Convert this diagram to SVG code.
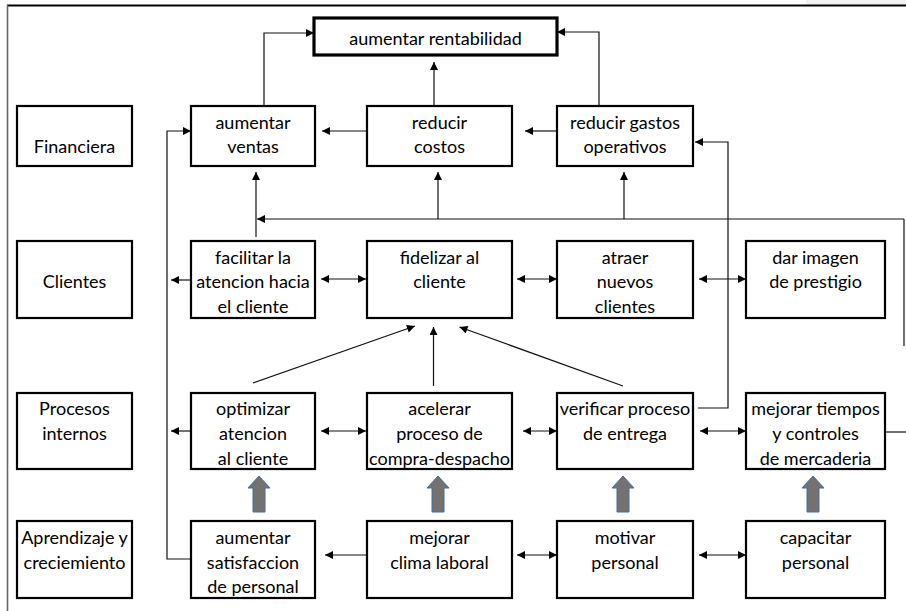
<svg xmlns="http://www.w3.org/2000/svg" width="906" height="611" viewBox="0 0 906 611">
<style>
.box{fill:#fff;stroke:#000;stroke-width:2.2}
.main{fill:#fff;stroke:#000;stroke-width:3.2}
.t{font-family:Lato,"Liberation Sans",sans-serif;font-size:18px;fill:#000;text-anchor:middle}
.c{fill:none;stroke:#111;stroke-width:1.2}
.ba{fill:#767171;stroke:#41719c;stroke-width:1}
</style>
<defs>
<marker id="ah" viewBox="0 0 10 10" refX="10" refY="5" markerWidth="9" markerHeight="8" orient="auto-start-reverse" markerUnits="userSpaceOnUse"><path d="M0,0 L10,5 L0,10 z" fill="#000"/></marker>
<linearGradient id="fade" gradientUnits="userSpaceOnUse" x1="0" y1="219" x2="0" y2="346"><stop offset="0" stop-color="#333"/><stop offset="1" stop-color="#ddd"/></linearGradient>
</defs>
<rect x="806" y="0" width="100" height="5" fill="#f2f2f2"/>
<line x1="7" y1="5.5" x2="906" y2="5.5" stroke="#000" stroke-width="2.2"/>
<line x1="7.5" y1="5" x2="7.5" y2="611" stroke="#666" stroke-width="1.6"/>

<g id="connectors">
<path class="c" d="M264,106 V33 H314" marker-end="url(#ah)"/>
<path class="c" d="M434,106 V62" marker-end="url(#ah)"/>
<path class="c" d="M599,106 V32 H557" marker-end="url(#ah)"/>
<path class="c" d="M367,131 H322" marker-end="url(#ah)"/>
<path class="c" d="M557,131 H525" marker-end="url(#ah)"/>
<path class="c" d="M191,559 H167 V131 H191" marker-end="url(#ah)"/>
<path class="c" d="M698,408 H728 V142 H695" marker-end="url(#ah)"/>
<path class="c" d="M885,432 H906"/>
<path class="c" d="M904,219 V346" stroke="url(#fade)"/>
<path class="c" d="M904,219 H257" marker-end="url(#ah)"/>
<path class="c" d="M256,237 V172" marker-end="url(#ah)"/>
<path class="c" d="M438,219 V172" marker-end="url(#ah)"/>
<path class="c" d="M624,219 V172" marker-end="url(#ah)"/>
<path class="c" d="M191,280 H171" marker-end="url(#ah)"/>
<path class="c" d="M191,431 H171" marker-end="url(#ah)"/>
<path class="c" d="M321,279 H366" marker-start="url(#ah)" marker-end="url(#ah)"/>
<path class="c" d="M517,279 H557" marker-start="url(#ah)" marker-end="url(#ah)"/>
<path class="c" d="M699,279 H746" marker-start="url(#ah)" marker-end="url(#ah)"/>
<path class="c" d="M321,431 H366" marker-start="url(#ah)" marker-end="url(#ah)"/>
<path class="c" d="M523,431 H557" marker-start="url(#ah)" marker-end="url(#ah)"/>
<path class="c" d="M700,431 H746" marker-start="url(#ah)" marker-end="url(#ah)"/>
<path class="c" d="M367,555 H325" marker-end="url(#ah)"/>
<path class="c" d="M517,555 H557" marker-start="url(#ah)" marker-end="url(#ah)"/>
<path class="c" d="M699,555 H746" marker-start="url(#ah)" marker-end="url(#ah)"/>
<path class="c" d="M253,383 L415,326" marker-end="url(#ah)"/>
<path class="c" d="M433.5,386 V327" marker-end="url(#ah)"/>
<path class="c" d="M623,386 L459.5,327" marker-end="url(#ah)"/>
<polygon class="ba" points="259,476 270,488 265,488 265,512 253,512 253,488 248,488"/>
<polygon class="ba" points="438,476 449,488 444,488 444,512 432,512 432,488 427,488"/>
<polygon class="ba" points="623,476 634,488 629,488 629,512 617,512 617,488 612,488"/>
<polygon class="ba" points="813,476 824,488 819,488 819,512 807,512 807,488 802,488"/>
</g>

<g id="rentabilidad"><rect class="main" x="314" y="18" width="243" height="37"/><text class="t" x="435.5" y="45">aumentar rentabilidad</text></g>

<g id="financiera"><rect class="box" x="17" y="106" width="115" height="60"/><text class="t" x="74.5" y="153">Financiera</text></g>
<g id="aumentar-ventas"><rect class="box" x="191" y="106" width="124" height="60"/><text class="t" x="253" y="129">aumentar</text><text class="t" x="253" y="153">ventas</text></g>
<g id="reducir-costos"><rect class="box" x="367" y="106" width="145" height="60"/><text class="t" x="439.5" y="129">reducir</text><text class="t" x="439.5" y="153">costos</text></g>
<g id="reducir-gastos"><rect class="box" x="557" y="106" width="136" height="60"/><text class="t" x="625" y="129">reducir gastos</text><text class="t" x="625" y="153">operativos</text></g>

<g id="clientes"><rect class="box" x="17" y="241" width="115" height="77"/><text class="t" x="74.5" y="288">Clientes</text></g>
<g id="facilitar"><rect class="box" x="191" y="241" width="124" height="77"/><text class="t" x="253" y="263.5">facilitar la</text><text class="t" x="253" y="288">atencion hacia</text><text class="t" x="253" y="312.5">el cliente</text></g>
<g id="fidelizar"><rect class="box" x="367" y="241" width="145" height="77"/><text class="t" x="439.5" y="263.5">fidelizar al</text><text class="t" x="439.5" y="288">cliente</text></g>
<g id="atraer"><rect class="box" x="557" y="241" width="136" height="77"/><text class="t" x="625" y="263.5">atraer</text><text class="t" x="625" y="288">nuevos</text><text class="t" x="625" y="312.5">clientes</text></g>
<g id="imagen"><rect class="box" x="746" y="241" width="139" height="77"/><text class="t" x="815.5" y="263.5">dar imagen</text><text class="t" x="815.5" y="288">de prestigio</text></g>

<g id="procesos"><rect class="box" x="17" y="393" width="115" height="76"/><text class="t" x="74.5" y="414.5">Procesos</text><text class="t" x="74.5" y="439.5">internos</text></g>
<g id="optimizar"><rect class="box" x="191" y="393" width="124" height="76"/><text class="t" x="253" y="414.5">optimizar</text><text class="t" x="253" y="439.5">atencion</text><text class="t" x="253" y="464.5">al cliente</text></g>
<g id="acelerar"><rect class="box" x="367" y="393" width="145" height="76"/><text class="t" x="439.5" y="414.5">acelerar</text><text class="t" x="439.5" y="439.5">proceso de</text><text class="t" x="439.5" y="464.5">compra-despacho</text></g>
<g id="verificar"><rect class="box" x="557" y="393" width="136" height="76"/><text class="t" x="625" y="414.5">verificar proceso</text><text class="t" x="625" y="439.5">de entrega</text></g>
<g id="mejorar-tiempos"><rect class="box" x="746" y="393" width="139" height="76"/><text class="t" x="815.5" y="414.5">mejorar tiempos</text><text class="t" x="815.5" y="439.5">y controles</text><text class="t" x="815.5" y="464.5">de mercaderia</text></g>

<g id="aprendizaje"><rect class="box" x="17" y="521" width="115" height="77"/><text class="t" x="74.5" y="543.5">Aprendizaje y</text><text class="t" x="74.5" y="568.5">creciemiento</text></g>
<g id="satisfaccion"><rect class="box" x="191" y="521" width="124" height="77"/><text class="t" x="253" y="543.5">aumentar</text><text class="t" x="253" y="568.5">satisfaccion</text><text class="t" x="253" y="592.5">de personal</text></g>
<g id="clima"><rect class="box" x="367" y="521" width="145" height="77"/><text class="t" x="439.5" y="543.5">mejorar</text><text class="t" x="439.5" y="568.5">clima laboral</text></g>
<g id="motivar"><rect class="box" x="557" y="521" width="136" height="77"/><text class="t" x="625" y="543.5">motivar</text><text class="t" x="625" y="568.5">personal</text></g>
<g id="capacitar"><rect class="box" x="746" y="521" width="139" height="77"/><text class="t" x="815.5" y="543.5">capacitar</text><text class="t" x="815.5" y="568.5">personal</text></g>
</svg>
